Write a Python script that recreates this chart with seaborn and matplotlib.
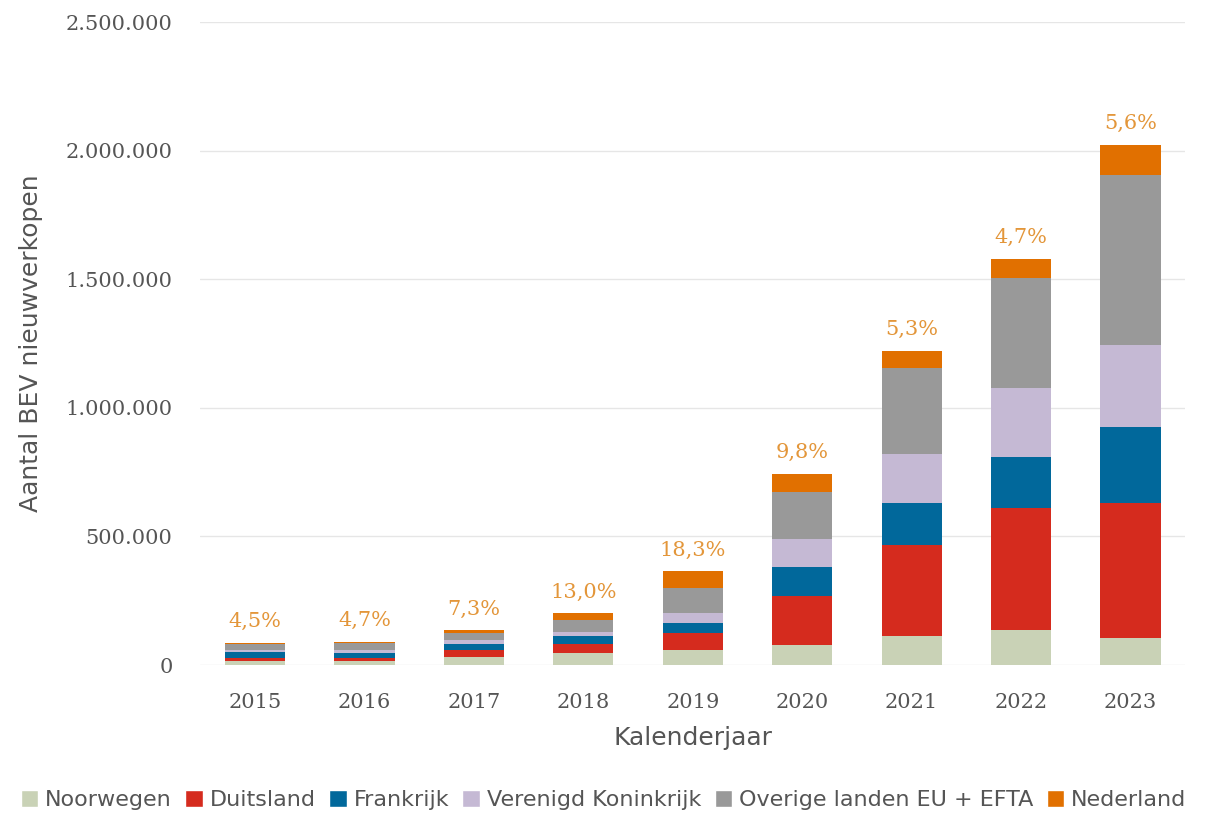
import numpy as np
import pandas as pd
import matplotlib.pyplot as plt
import seaborn as sns
from matplotlib.ticker import FuncFormatter
from matplotlib.patches import Patch

# ── Data ────────────────────────────────────────────────────────────────────
years = ["2015", "2016", "2017", "2018", "2019", "2020", "2021", "2022", "2023"]
noorwegen = [15000, 15000, 33000, 46000, 58000, 78000, 113000, 136000, 105000]
duitsland = [12000, 11000, 25000, 36000, 66000, 191000, 354000, 475000, 525000]
frankrijk = [22000, 22000, 25000, 31000, 39000, 113000, 163000, 198000, 296000]
verenigd_koninkrijk = [10000, 10000, 14000, 15000, 39000, 109000, 191000, 268000, 319000]
overige = [23000, 28000, 29000, 48000, 97000, 183000, 335000, 428000, 661000]
nederland = [4000, 4200, 10000, 26000, 66000, 70000, 66000, 74000, 117000]
nl_share = ["4,5%", "4,7%", "7,3%", "13,0%", "18,3%", "9,8%", "5,3%", "4,7%", "5,6%"]

series = {
    "Noorwegen": noorwegen,
    "Duitsland": duitsland,
    "Frankrijk": frankrijk,
    "Verenigd Koninkrijk": verenigd_koninkrijk,
    "Overige landen EU + EFTA": overige,
    "Nederland": nederland,
}
colors = ["#C9D2B6", "#D52B1E", "#01689B", "#C5B9D4", "#999999", "#E17000"]

# ── Plot ─────────────────────────────────────────────────────────────────────
sns.set_style("white")
plt.rcParams["font.family"] = ["DejaVu Sans"]

fig = plt.figure(figsize=(12.07, 8.19), dpi=100)
ax = fig.add_axes([0.166, 0.188, 0.816, 0.785])

bottom = np.zeros(len(years))
for (name, vals), col in zip(series.items(), colors):
    sns.barplot(x=years, y=vals, bottom=bottom, color=col, width=0.55,
                saturation=1, linewidth=0, edgecolor="none", ax=ax, zorder=3)
    bottom = bottom + np.array(vals)

# percentage labels for Nederland share
for i, (tot, lab) in enumerate(zip(bottom, nl_share)):
    ax.text(i, tot + 45000, lab, ha="center", va="bottom", color="#E3963A",
            fontsize=15, family="DejaVu Serif")

ax.set_ylim(0, 2500000)
ax.set_xlim(-0.5, len(years) - 0.5)
ax.set_yticks(np.arange(0, 2500001, 500000))
ax.yaxis.set_major_formatter(FuncFormatter(lambda v, p: f"{int(v):,}".replace(",", ".")))
ax.grid(axis="y", color="#E6E6E6", linewidth=1, zorder=0)
sns.despine(ax=ax, left=True, bottom=True)
ax.tick_params(axis="both", length=0, labelsize=15, labelcolor="#555555", pad=20)
for lbl in ax.get_xticklabels() + ax.get_yticklabels():
    lbl.set_family("DejaVu Serif")
ax.tick_params(axis="y", pad=20)

ax.set_xlabel("Kalenderjaar", fontsize=18, color="#555555", labelpad=10)
ax.set_ylabel("Aantal BEV nieuwverkopen", fontsize=18, color="#555555", labelpad=16)

handles = [Patch(facecolor=c, label=n) for n, c in zip(series.keys(), colors)]
fig.legend(handles=handles, loc="lower center", bbox_to_anchor=(0.5, -0.014),
           ncol=6, frameon=False, fontsize=16, handlelength=0.8, handleheight=0.8,
           handletextpad=0.3, columnspacing=0.6, labelcolor="#555555")

plt.savefig("out.png", dpi=100)
plt.close()
